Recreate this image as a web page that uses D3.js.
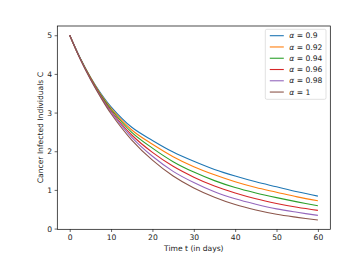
<!doctype html>
<html>
<head>
<meta charset="utf-8">
<script src="https://d3js.org/d3.v7.min.js"></script>
<style>
  body { margin: 0; background: #fff; }
  text { font-family: "DejaVu Sans", sans-serif; fill: #222; }
</style>
</head>
<body>
<svg id="chart" width="352" height="274"></svg>
<script>
// time points (days)
var days = [0, 2.5, 5, 7.5, 10, 15, 20, 25, 30, 35, 40, 45, 50, 55, 60];

// C(t), one array per alpha
var alpha090 = [5, 4.42, 3.92, 3.50, 3.15, 2.62, 2.28, 1.98, 1.74, 1.53, 1.36, 1.21, 1.08, 0.95, 0.84];
var alpha092 = [5, 4.41, 3.91, 3.47, 3.11, 2.55, 2.18, 1.86, 1.60, 1.39, 1.21, 1.06, 0.94, 0.82, 0.72];
var alpha094 = [5, 4.41, 3.90, 3.45, 3.08, 2.49, 2.08, 1.73, 1.46, 1.24, 1.06, 0.92, 0.80, 0.69, 0.59];
var alpha096 = [5, 4.40, 3.89, 3.43, 3.04, 2.42, 1.97, 1.61, 1.33, 1.10, 0.92, 0.77, 0.65, 0.55, 0.47];
var alpha098 = [5, 4.40, 3.87, 3.41, 3.01, 2.36, 1.87, 1.48, 1.19, 0.95, 0.77, 0.63, 0.51, 0.42, 0.34];
var alpha100 = [5, 4.39, 3.86, 3.39, 2.97, 2.29, 1.77, 1.36, 1.05, 0.81, 0.62, 0.48, 0.37, 0.29, 0.22];

var alphaLabels = ["0.9", "0.92", "0.94", "0.96", "0.98", "1"];
var xTicks = [0, 10, 20, 30, 40, 50, 60];
var yTicks = [0, 1, 2, 3, 4, 5];

var series = [alpha090, alpha092, alpha094, alpha096, alpha098, alpha100];
var colors = ["#1f77b4", "#ff7f0e", "#2ca02c", "#d62728", "#9467bd", "#8c564b"];

var plotL = 57.3, plotR = 330.3, plotT = 26, plotB = 229.3;
var svg = d3.select("#chart");

var x = d3.scaleLinear().domain([-3, 63]).range([plotL, plotR]);
var y = d3.scaleLinear().domain([-0.019, 5.239]).range([plotB, plotT]);

// curves
var line = d3.line()
    .x(function(d, i) { return x(days[i]); })
    .y(function(d) { return y(d); })
    .curve(d3.curveCatmullRom.alpha(0.5));

svg.append("g").selectAll("path")
    .data(series)
    .enter()
    .append("path")
      .attr("d", line)
      .attr("fill", "none")
      .attr("stroke", function(d, i) { return colors[i]; })
      .attr("stroke-width", 1.1);

// axes
var xAxis = svg.append("g")
    .attr("transform", "translate(0," + plotB + ")")
    .call(d3.axisBottom(x).tickValues(xTicks).tickFormat(d3.format("d")).tickSize(2.7).tickPadding(2.5));
var yAxis = svg.append("g")
    .attr("transform", "translate(" + plotL + ",0)")
    .call(d3.axisLeft(y).tickValues(yTicks).tickFormat(d3.format("d")).tickSize(2.7).tickPadding(2.5));
[xAxis, yAxis].forEach(function(a) {
    a.select(".domain").remove();
    a.selectAll("line").attr("stroke", "#000").attr("stroke-width", 0.6);
    a.selectAll("text").style("font-size", "7.6px").attr("fill", "#222");
});

// frame
svg.append("rect")
    .attr("x", plotL).attr("y", plotT)
    .attr("width", plotR - plotL).attr("height", plotB - plotT)
    .attr("fill", "none").attr("stroke", "#000").attr("stroke-width", 0.7);

// axis labels
svg.append("text")
    .attr("x", (plotL + plotR) / 2).attr("y", 251)
    .attr("text-anchor", "middle").style("font-size", "7.6px")
    .text("Time t (in days)");
svg.append("text")
    .attr("transform", "translate(42.5," + ((plotT + plotB) / 2) + ") rotate(-90)")
    .attr("text-anchor", "middle").style("font-size", "7.6px")
    .text("Cancer Infected Individuals C");

// legend
var legend = svg.append("g").attr("transform", "translate(265.3,29.3)");
legend.append("rect")
    .attr("width", 60.7).attr("height", 70).attr("rx", 1.5)
    .attr("fill", "#fff").attr("fill-opacity", 0.8)
    .attr("stroke", "#ccc").attr("stroke-width", 0.6);
var items = legend.selectAll("g.item")
    .data(alphaLabels)
    .enter()
    .append("g")
      .attr("class", "item")
      .attr("transform", function(d, i) { return "translate(0," + (6.4 + 11.27 * i) + ")"; });
items.append("line")
    .attr("x1", 4.5).attr("x2", 18.5)
    .attr("stroke", function(d, i) { return colors[i]; })
    .attr("stroke-width", 1.1);
var labels = items.append("text")
    .attr("x", 24).attr("dy", "0.35em")
    .style("font-size", "7.6px");
labels.append("tspan").style("font-style", "italic").text("\u03b1");
labels.append("tspan").text(function(d) { return " = " + d; });
</script>
</body>
</html>
